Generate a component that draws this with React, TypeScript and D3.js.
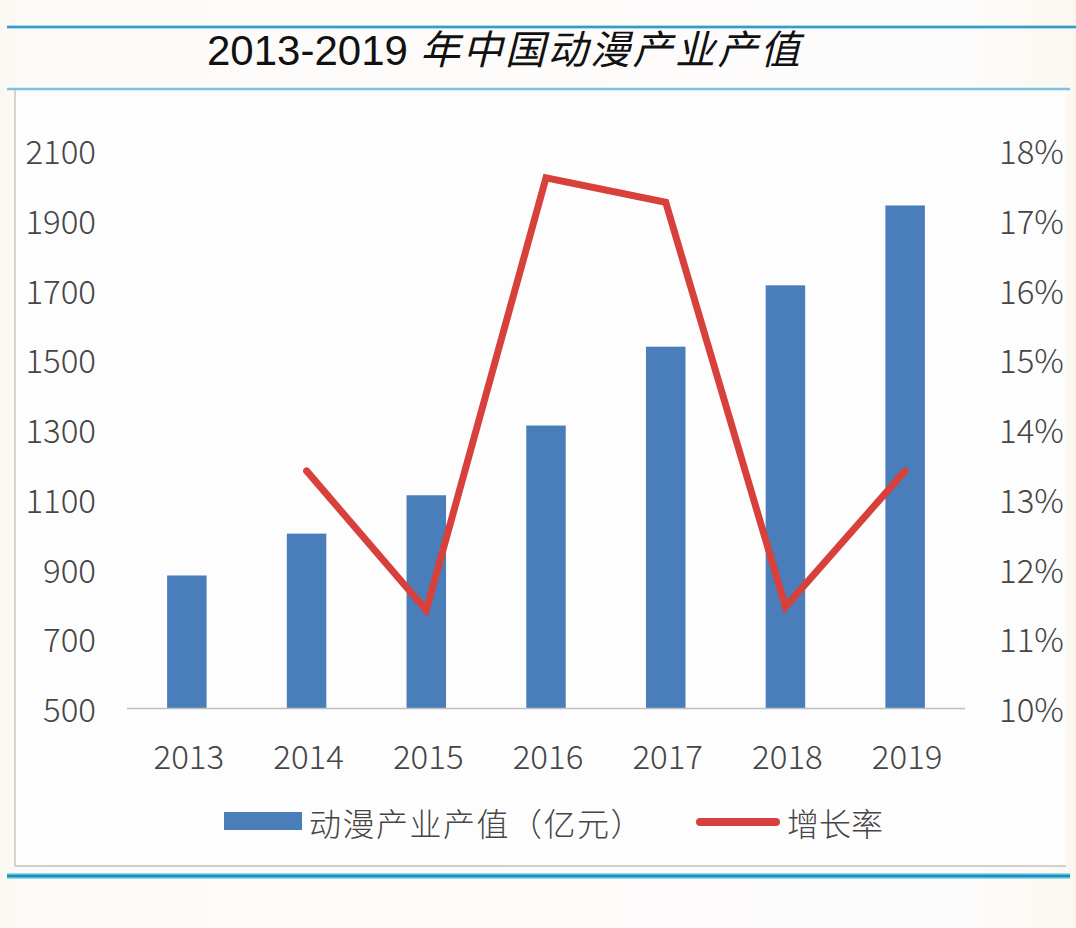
import React from "react";
import * as d3 from "d3";

const years = ["2013", "2014", "2015", "2016", "2017", "2018", "2019"];
const outputValues = [880, 1000, 1110, 1310, 1536, 1712, 1941];
const growthYears = ["2014", "2015", "2016", "2017", "2018", "2019"];
const growthRates = [13.4, 11.4, 17.6, 17.25, 11.45, 13.4];
const leftTicks = [500, 700, 900, 1100, 1300, 1500, 1700, 1900, 2100];
const rightTicks = [10, 11, 12, 13, 14, 15, 16, 17, 18];
const titleNum = "2013-2019";
const titleCn = "年中国动漫产业产值";
const legendBar = "动漫产业产值（亿元）";
const legendLine = "增长率";

const W = 1076;
const H = 928;
const plotLeft = 127;
const plotRight = 965;
const plotTop = 150;
const plotBottom = 708;
const font = "'Noto Sans CJK SC', 'Noto Sans', sans-serif";
const textColor = "#454545";
const barColor = "#4a7ebb";
const lineColor = "#d8403b";

export default function App() {
  const x = d3.scaleBand<string>().domain(years).range([plotLeft, plotRight]).paddingInner(0).paddingOuter(0);
  const barW = x.step() * 0.33;
  const yL = d3.scaleLinear().domain([500, 2100]).range([plotBottom, plotTop]);
  const yR = d3.scaleLinear().domain([10, 18]).range([plotBottom, plotTop]);
  const cx = (d: string) => (x(d) as number) + x.bandwidth() / 2;

  const lineGen = d3
    .line<number>()
    .x((_, i) => cx(growthYears[i]))
    .y((d) => yR(d));

  return (
    <svg width={W} height={H} style={{ display: "block", position: "absolute", left: 0, top: 0 }}>
      <defs>
        <linearGradient id="bg" x1="0" x2="1" y1="0" y2="0">
          <stop offset="0" stopColor="#fbf6f0" />
          <stop offset="0.02" stopColor="#fdfbf9" />
          <stop offset="0.9" stopColor="#fdfcfc" />
          <stop offset="1" stopColor="#fcf7f0" />
        </linearGradient>
      </defs>
      <rect x={0} y={0} width={W} height={H} fill="url(#bg)" />
      <rect x={15} y={90} width={1051} height={776} fill="#fefdfe" />
      {/* top rules */}
      <line x1={7} x2={1076} y1={27} y2={27} stroke="#a9dcef" strokeWidth={4} />
      <line x1={7} x2={1076} y1={27} y2={27} stroke="#3a9ac4" strokeWidth={2} />
      <line x1={7} x2={1070} y1={89} y2={89} stroke="#b5e0f0" strokeWidth={3} />
      <line x1={7} x2={1070} y1={89} y2={89} stroke="#6fb8d8" strokeWidth={1.5} />
      {/* chart box */}
      <line x1={15} x2={15} y1={90} y2={866} stroke="#c8c4c4" strokeWidth={1.5} />
      <line x1={15} x2={1066} y1={866} y2={866} stroke="#c8bcbc" strokeWidth={1.5} />
      {/* bottom rule */}
      <line x1={7} x2={1070} y1={876} y2={876} stroke="#8fe0f5" strokeWidth={6} />
      <line x1={7} x2={1070} y1={876} y2={876} stroke="#1f8fba" strokeWidth={3} />

      {/* title */}
      <text x={207} y={65} fontFamily="'Liberation Sans', Arial, sans-serif" fontSize={42} fill="#111">
        {titleNum}
      </text>
      <text x={420} y={64} fontFamily={font} fontSize={40} fontStyle="italic" letterSpacing={2.5} fill="#111">
        {titleCn}
      </text>

      {/* bars */}
      {years.map((yr, i) => (
        <rect
          key={yr}
          x={cx(yr) - barW / 2}
          y={yL(outputValues[i])}
          width={barW}
          height={plotBottom - yL(outputValues[i])}
          fill={barColor}
        />
      ))}
      {/* baseline */}
      <line x1={plotLeft} x2={plotRight} y1={plotBottom + 0.5} y2={plotBottom + 0.5} stroke="#bfbfbf" strokeWidth={1.5} />

      {/* growth line */}
      <path d={lineGen(growthRates) || ""} fill="none" stroke={lineColor} strokeWidth={7} strokeLinejoin="miter" strokeLinecap="round" />

      {/* left axis */}
      {leftTicks.map((t) => (
        <text key={t} x={96} y={yL(t)} textAnchor="end" dominantBaseline="central" fontFamily={font} fontWeight={300} fontSize={33} fill={textColor}>
          {t}
        </text>
      ))}
      {/* right axis */}
      {rightTicks.map((t) => (
        <text key={t} x={999} y={yR(t)} textAnchor="start" dominantBaseline="central" fontFamily={font} fontWeight={300} fontSize={33} fill={textColor}>
          {t}%
        </text>
      ))}
      {/* x axis */}
      {years.map((yr) => (
        <text key={yr} x={cx(yr) + 2} y={755} textAnchor="middle" dominantBaseline="central" fontFamily={font} fontWeight={300} fontSize={33} fill={textColor}>
          {yr}
        </text>
      ))}

      {/* legend */}
      <rect x={224} y={812} width={78} height={18} fill={barColor} />
      <text x={309} y={822} dominantBaseline="central" fontFamily={font} fontWeight={300} fontSize={32} letterSpacing={1.5} fill={textColor}>
        {legendBar}
      </text>
      <line x1={700} x2={776} y1={822} y2={822} stroke={lineColor} strokeWidth={8} strokeLinecap="round" />
      <text x={787} y={822} dominantBaseline="central" fontFamily={font} fontWeight={300} fontSize={32} fill={textColor}>
        {legendLine}
      </text>
    </svg>
  );
}
